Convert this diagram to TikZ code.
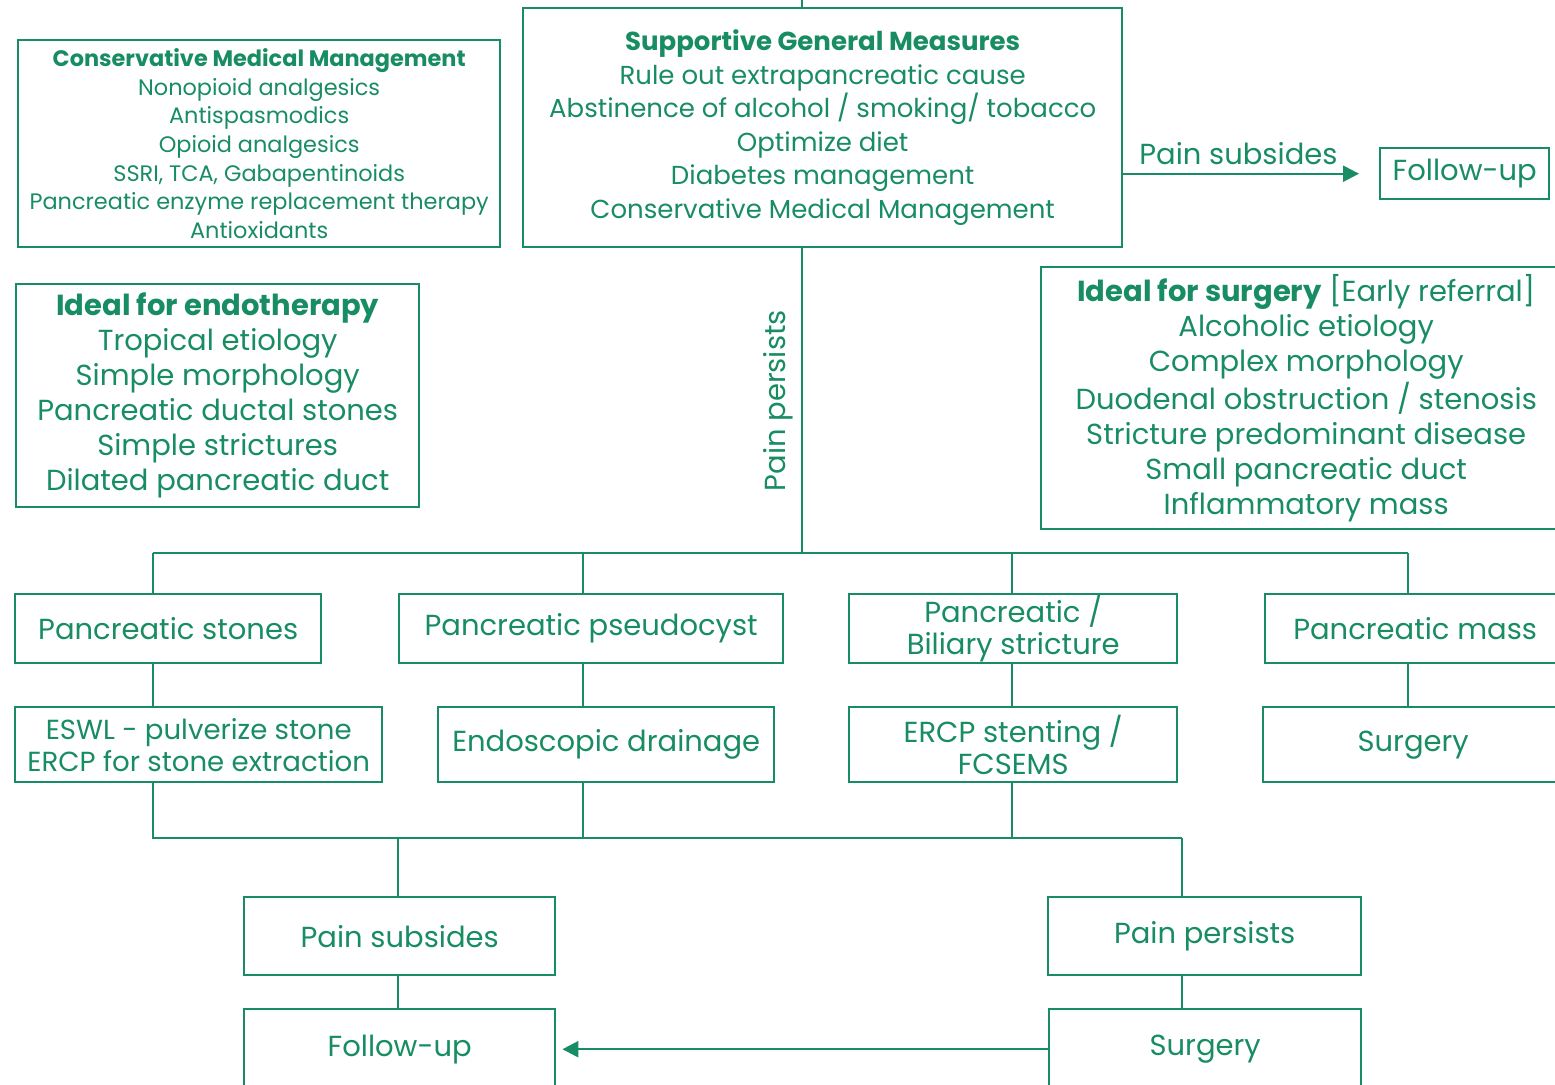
\documentclass[tikz,border=0pt]{standalone}
\usepackage{fontspec}
\setmainfont{Poppins}
\usetikzlibrary{positioning,arrows.meta}

\definecolor{leaf}{RGB}{24,140,98}

\tikzset{
  box/.style={draw=leaf, line width=1.2pt, text=leaf, align=center, anchor=north west, inner sep=2pt},
  wd/.style={minimum width=#1*0.5pt},
  ht/.style={minimum height=#1*0.5pt},
  link/.style={draw=leaf, line width=1.2pt},
  arrowtip/.style={-{Triangle[length=8pt,width=8pt]}},
  big/.style={font=\fontsize{14.5}{17.5}\selectfont},
  twoline/.style={font=\fontsize{14.5}{16}\selectfont, inner ysep=0pt},
}

\begin{document}
\begin{tikzpicture}[x=0.5pt, y=-0.5pt]
  \useasboundingbox (0,0) rectangle (1555,1084);
  \clip (0,0) rectangle (1555,1084);

  % general measures and medical treatment
  \node[box, wd=599, ht=239, font=\fontsize{13}{16.75}\selectfont] (measures) at (522,7)
    {\textbf{Supportive General Measures}\\Rule out extrapancreatic cause\\
     Abstinence of alcohol / smoking/ tobacco\\Optimize diet\\Diabetes management\\
     Conservative Medical Management};
  \node[box, wd=482, ht=207, font=\fontsize{11.2}{14.3}\selectfont] (cmm) at (17,39)
    {\textbf{Conservative Medical Management}\\Nonopioid analgesics\\Antispasmodics\\
     Opioid analgesics\\SSRI, TCA, Gabapentinoids\\Pancreatic enzyme replacement therapy\\
     Antioxidants};
  \node[box, big, wd=169, ht=51] (fu1) at (1379,147) {Follow-up};

  % who goes where
  \node[box, big, wd=403, ht=223] (endo) at (15,283)
    {\textbf{Ideal for endotherapy}\\Tropical etiology\\Simple morphology\\
     Pancreatic ductal stones\\Simple strictures\\Dilated pancreatic duct};
  \node[box, big, wd=530, ht=262] (ideal) at (1040,266)
    {\textbf{Ideal for surgery} [Early referral]\\Alcoholic etiology\\Complex morphology\\
     Duodenal obstruction / stenosis\\Stricture predominant disease\\
     Small pancreatic duct\\Inflammatory mass};

  % complications
  \node[box, big, wd=306, ht=69] (stones) at (14,593) {Pancreatic stones};
  \node[box, big, wd=384, ht=69] (pseudo) at (398,593) {Pancreatic pseudocyst};
  \node[box, twoline, wd=328, ht=69] (strict) at (848,593) {Pancreatic /\\Biliary stricture};
  \node[box, big, wd=300, ht=69] (mass) at (1264,593) {Pancreatic mass};

  % treatment
  \node[box, twoline, wd=367, ht=75, font=\fontsize{13.8}{16}\selectfont] (eswl) at (14,706)
    {ESWL - pulverize stone\\ERCP for stone extraction};
  \node[box, big, wd=336, ht=75] (drain) at (437,706) {Endoscopic drainage};
  \node[box, twoline, wd=328, ht=75] (stent) at (848,706) {ERCP stenting /\\FCSEMS};
  \node[box, big, wd=300, ht=75] (surg) at (1262,706) {Surgery};

  % outcome
  \node[box, big, wd=311, ht=78] (subs) at (243,896) {Pain subsides};
  \node[box, big, wd=313, ht=78] (pers) at (1047,896) {Pain persists};
  \node[box, big, wd=311, ht=80] (fu2) at (243,1008) {Follow-up};
  \node[box, big, wd=312, ht=80] (surg2) at (1048,1008) {Surgery};

  % bus lines
  \coordinate (top) at (802,0);
  \coordinate (split) at (802,553);
  \coordinate (merge) at (802,838);
  \coordinate (c1) at (153,0);
  \coordinate (c2) at (583,0);
  \coordinate (c3) at (1012,0);
  \coordinate (c4) at (1408,0);
  \coordinate (c5) at (398,0);
  \coordinate (c6) at (1182,0);

  \draw[link] (top) -- (top |- measures.north);
  \draw[link, arrowtip, shorten >=10pt] (measures.east |- fu1.west) -- (fu1.west)
    node[pos=0.45, above, text=leaf, big, inner sep=4pt] {Pain subsides};
  \draw[link] (split |- measures.south) -- (split)
    node[midway, above, rotate=90, text=leaf, big, inner sep=4pt] {Pain persists};

  \draw[link] (c1 |- split) -- (c4 |- split);
  \draw[link] (c1 |- split) -- (c1 |- stones.north);
  \draw[link] (c2 |- split) -- (c2 |- pseudo.north);
  \draw[link] (c3 |- split) -- (c3 |- strict.north);
  \draw[link] (c4 |- split) -- (c4 |- mass.north);

  \draw[link] (c1 |- stones.south) -- (c1 |- eswl.north);
  \draw[link] (c2 |- pseudo.south) -- (c2 |- drain.north);
  \draw[link] (c3 |- strict.south) -- (c3 |- stent.north);
  \draw[link] (c4 |- mass.south) -- (c4 |- surg.north);

  \draw[link] (c1 |- eswl.south) -- (c1 |- merge) -- (c6 |- merge);
  \draw[link] (c2 |- drain.south) -- (c2 |- merge);
  \draw[link] (c3 |- stent.south) -- (c3 |- merge);
  \draw[link] (c5 |- merge) -- (c5 |- subs.north);
  \draw[link] (c6 |- merge) -- (c6 |- pers.north);

  \draw[link] (c5 |- subs.south) -- (c5 |- fu2.north);
  \draw[link] (c6 |- pers.south) -- (c6 |- surg2.north);
  \draw[link, arrowtip, shorten >=3pt] (surg2.west) -- (fu2.east);
\end{tikzpicture}
\end{document}
